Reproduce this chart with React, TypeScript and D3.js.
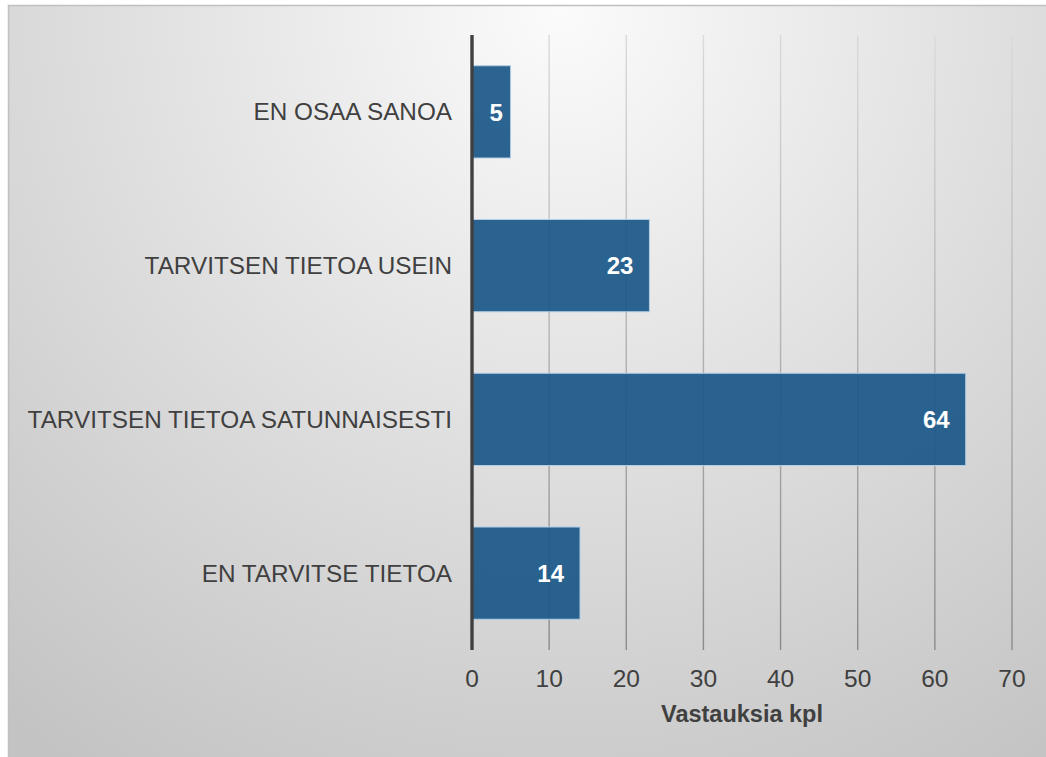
import { useEffect, useRef } from 'react';
import * as d3 from 'd3';

// vastausvaihtoehdot ylhäältä alas
const categories = [
  'EN OSAA SANOA',
  'TARVITSEN TIETOA USEIN',
  'TARVITSEN TIETOA SATUNNAISESTI',
  'EN TARVITSE TIETOA',
];
const counts = [5, 23, 64, 14];
const xTicks = [0, 10, 20, 30, 40, 50, 60, 70];
const xTitle = 'Vastauksia kpl';

const W = 1046;
const H = 757;
const plot = { left: 472, right: 1012, top: 35, bottom: 650 };
const textColor = '#404040';
const font = 'Liberation Sans';

export default function App() {
  const svgRef = useRef<SVGSVGElement>(null);

  useEffect(() => {
    const svg = d3.select(svgRef.current);
    svg.selectAll('*').remove();

    const defs = svg.append('defs');
    const bg = defs
      .append('radialGradient')
      .attr('id', 'bg')
      .attr('gradientUnits', 'userSpaceOnUse')
      .attr('cx', 560)
      .attr('cy', 10)
      .attr('r', 900);
    bg.append('stop').attr('offset', '0').attr('stop-color', '#fbfbfb');
    bg.append('stop').attr('offset', '0.55').attr('stop-color', '#dcdcdc');
    bg.append('stop').attr('offset', '1').attr('stop-color', '#c3c3c3');

    const grid = defs
      .append('linearGradient')
      .attr('id', 'grid')
      .attr('gradientUnits', 'userSpaceOnUse')
      .attr('x1', 0)
      .attr('y1', plot.top)
      .attr('x2', 0)
      .attr('y2', plot.bottom);
    grid.append('stop').attr('offset', '0').attr('stop-color', '#dadada');
    grid.append('stop').attr('offset', '1').attr('stop-color', '#8a8a8a');

    svg
      .append('rect')
      .attr('x', 8.5)
      .attr('y', 5.5)
      .attr('width', W)
      .attr('height', H)
      .attr('fill', 'url(#bg)')
      .attr('stroke', '#c0c0c0')
      .attr('stroke-width', 1.5);

    const x = d3.scaleLinear().domain([0, 70]).range([plot.left, plot.right]);
    const y = d3
      .scaleBand<string>()
      .domain(categories)
      .range([plot.top, plot.bottom])
      .paddingInner(0.4)
      .paddingOuter(0.2);

    // pystysuorat apuviivat
    svg
      .append('g')
      .selectAll('line')
      .data(xTicks.slice(1))
      .join('line')
      .attr('x1', d => x(d))
      .attr('x2', d => x(d))
      .attr('y1', plot.top)
      .attr('y2', plot.bottom)
      .attr('stroke', 'url(#grid)')
      .attr('stroke-width', 1.4);

    const rows = categories.map((c, i) => ({ label: c, value: counts[i] }));

    svg
      .append('g')
      .selectAll('rect')
      .data(rows)
      .join('rect')
      .attr('x', x(0))
      .attr('y', d => y(d.label)!)
      .attr('width', d => x(d.value) - x(0))
      .attr('height', y.bandwidth())
      .attr('fill', '#1b5889')
      .attr('fill-opacity', 0.93)
      .attr('stroke', '#b4cde3')
      .attr('stroke-width', 1);

    svg
      .append('g')
      .selectAll('text')
      .data(rows)
      .join('text')
      .attr('x', d => x(d.value) - Math.min(16, (x(d.value) - x(0)) * 0.2))
      .attr('y', d => y(d.label)! + y.bandwidth() / 2 + 8.7)
      .attr('text-anchor', 'end')
      .attr('fill', '#fff')
      .attr('font-family', font)
      .attr('font-weight', 'bold')
      .attr('font-size', 24)
      .text(d => d.value);

    // kategoriat
    svg
      .append('g')
      .selectAll('text')
      .data(categories)
      .join('text')
      .attr('x', 452)
      .attr('y', d => y(d)! + y.bandwidth() / 2 + 8.5)
      .attr('text-anchor', 'end')
      .attr('fill', textColor)
      .attr('font-family', font)
      .attr('font-size', 24.3)
      .text(d => d);

    svg
      .append('line')
      .attr('x1', x(0))
      .attr('x2', x(0))
      .attr('y1', plot.top)
      .attr('y2', plot.bottom)
      .attr('stroke', textColor)
      .attr('stroke-width', 3.4);

    svg
      .append('g')
      .selectAll('text')
      .data(xTicks)
      .join('text')
      .attr('x', d => x(d))
      .attr('y', 687)
      .attr('text-anchor', 'middle')
      .attr('fill', textColor)
      .attr('font-family', font)
      .attr('font-size', 24.5)
      .text(d => d);

    svg
      .append('text')
      .attr('x', (plot.left + plot.right) / 2)
      .attr('y', 722)
      .attr('text-anchor', 'middle')
      .attr('fill', textColor)
      .attr('font-family', font)
      .attr('font-weight', 'bold')
      .attr('font-size', 23.5)
      .text(xTitle);
  }, []);

  return (
    <svg
      ref={svgRef}
      width={W}
      height={H}
      style={{ position: 'absolute', left: 0, top: 0, display: 'block' }}
    />
  );
}
